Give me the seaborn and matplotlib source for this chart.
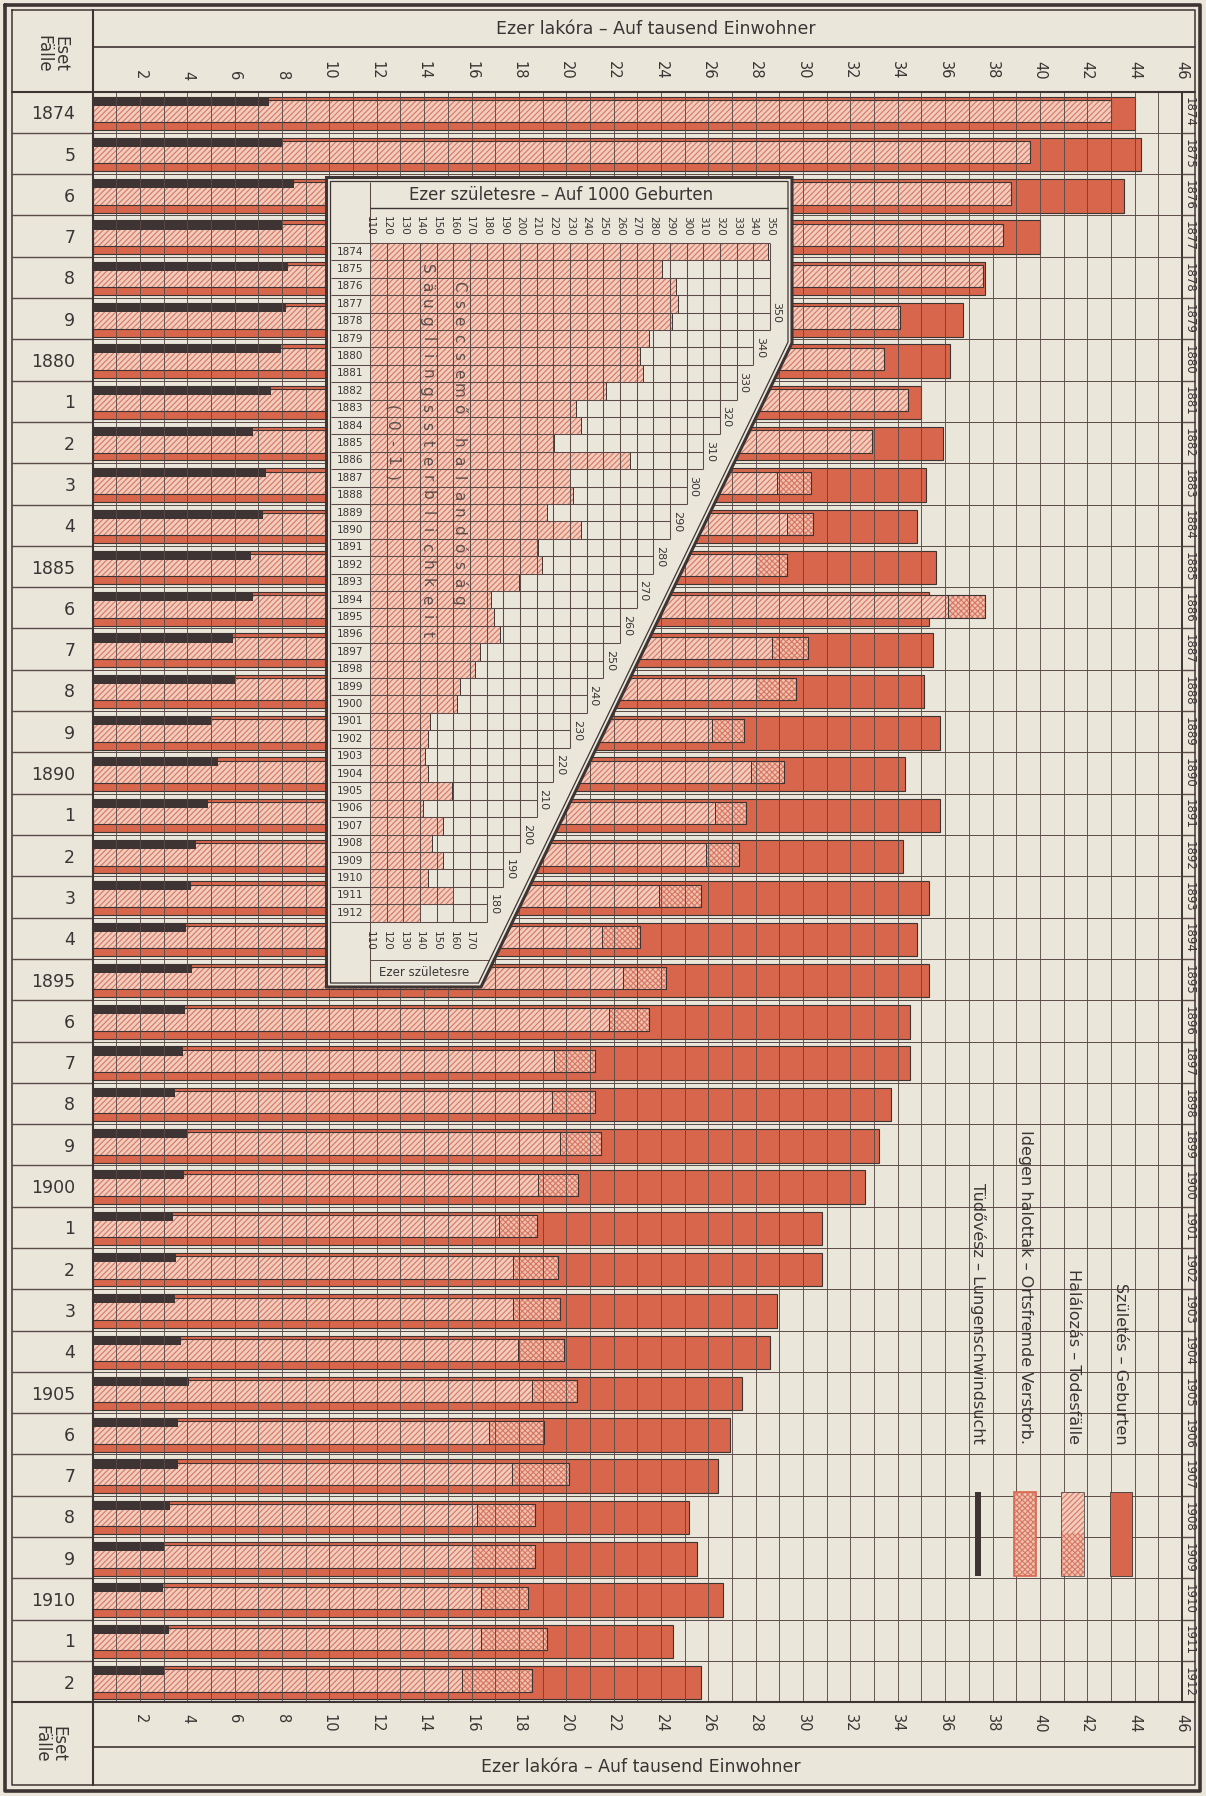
import numpy as np
import pandas as pd
import matplotlib
matplotlib.use("Agg")
import matplotlib.pyplot as plt
import matplotlib.transforms as mtransforms
from matplotlib.patches import Polygon, Rectangle
from matplotlib.lines import Line2D
import seaborn as sns

# ---------------- data ----------------
years = list(range(1874, 1913))
births = [44.0, 44.25, 43.55, 40.0, 37.7, 36.75, 36.2, 35.0, 35.9, 35.2,
          34.8, 35.6, 35.3, 35.5, 35.1, 35.8, 34.3, 35.8, 34.2, 35.3,
          34.8, 35.3, 34.5, 34.5, 33.7, 33.2, 32.6, 30.8, 30.8, 28.9,
          28.6, 27.4, 26.9, 26.4, 25.2, 25.5, 26.6, 24.5, 25.7]
deaths = [43.0, 39.6, 38.8, 38.45, 37.6, 34.1, 33.4, 34.45, 32.9, 30.35,
          30.4, 29.3, 37.7, 30.2, 29.7, 27.5, 29.2, 27.6, 27.3, 25.7,
          23.1, 24.2, 23.5, 21.2, 21.2, 21.45, 20.5, 18.75, 19.65, 19.75,
          19.9, 20.45, 19.05, 20.1, 18.7, 18.7, 18.4, 19.2, 18.55]
foreign_deaths = [0, 0, 0, 0, 0, 0, 0, 0, 0, 1.45,
                  1.1, 1.3, 1.6, 1.5, 1.7, 1.35, 1.4, 1.3, 1.4, 1.8,
                  1.6, 1.8, 1.7, 1.7, 1.8, 1.7, 1.7, 1.6, 1.9, 2.0,
                  1.95, 1.9, 2.3, 2.4, 2.45, 2.7, 2.0, 2.8, 2.95]
tuberculosis = [7.44, 8.03, 8.49, 8.0, 8.24, 8.17, 7.96, 7.54, 6.76, 7.32,
                7.18, 6.69, 6.76, 5.92, 6.01, 5.0, 5.31, 4.86, 4.37, 4.15,
                3.95, 4.2, 3.9, 3.8, 3.46, 4.0, 3.84, 3.39, 3.53, 3.46,
                3.74, 4.07, 3.6, 3.6, 3.27, 3.03, 2.99, 3.21, 3.06]
infant_mortality = [349, 285, 293.6, 295, 291, 277.4, 272, 274, 251.4, 233.4,
                    236.6, 220.6, 266, 230, 232, 216, 236.6, 211, 213.4, 199.4,
                    182.6, 184.6, 188, 176, 173, 164, 162, 146, 145, 143,
                    144.6, 159, 142, 154, 147, 154, 145, 160, 140]

main_ticks = list(range(2, 47, 2))
inset_ticks = list(range(110, 351, 10))
inset_bottom_ticks = list(range(110, 171, 10))
stair_ticks = list(range(180, 351, 10))
left_labels = [str(y) if (y == 1874 or (y % 5 == 0 and y != 1875)) else str(y % 10)
               for y in years]

header_main = "Ezer lakóra – Auf tausend Einwohner"
header_inset = "Ezer születesre – Auf 1000 Geburten"
footer_inset = "Ezer születesre"
corner_label = "Eset\nFälle"
inset_title_hu = "Csecsemő halandóság"
inset_title_de = "Säuglingssterblichkeit"
inset_age = "(0-1)"
legend_labels = ["Születés – Geburten", "Halálozás – Todesfälle",
                 "Idegen halottak – Ortsfremde Verstorb.",
                 "Tüdővész – Lungenschwindsucht"]

# ---------------- style ----------------
PAPER = "#EAE6DA"
RED = "#D8664C"
PINK = "#F1CDBF"
HATCH = "#D9765F"
XPINK = "#EEC2B3"
DARK = "#3E3434"
LINE = "#5A4B48"
TEXT = "#3A3434"

sns.set_theme(style="white")
plt.rcParams["font.family"] = ["DejaVu Sans"]
plt.rcParams["hatch.linewidth"] = 0.8

W, H = 1206, 1796
fig = plt.figure(figsize=(W / 100, H / 100), dpi=100, facecolor=PAPER)
PIX = mtransforms.Affine2D().scale(1 / W, -1 / H).translate(0, 1) + fig.transFigure

AX_L, AX_R, AX_T, AX_B = 92.6, 1182.0, 91.6, 1702.3
ax = fig.add_axes([AX_L / W, 1 - AX_B / H, (AX_R - AX_L) / W, (AX_B - AX_T) / H])
ax.set_facecolor(PAPER)

n = len(years)
rows = np.arange(n)
df = pd.DataFrame({
    "year": years,
    "births": births,
    "deaths": deaths,
    "foreign": foreign_deaths,
    "tb": tuberculosis,
    "birth_pos": rows + 0.525,
})
resident = df["deaths"] - df["foreign"]

# births (solid red) via seaborn
sns.barplot(data=df, x="births", y="birth_pos", orient="y", native_scale=True,
            width=0.81, color=RED, saturation=1, edgecolor=DARK, linewidth=0.8,
            errorbar=None, ax=ax, zorder=1)

ax.set_xlim(0, 46)
ax.set_ylim(n, 0)

# deaths (hatched) and foreign deaths (cross-hatched)
ax.barh(rows + 0.47, resident, height=0.54, left=0, facecolor=PINK,
        edgecolor=HATCH, hatch="//////", linewidth=0, zorder=1.5)
ax.barh(rows + 0.47, df["foreign"], height=0.54, left=resident, facecolor=XPINK,
        edgecolor=HATCH, hatch="xxxxxx", linewidth=0, zorder=1.5)
ax.barh(rows + 0.47, df["deaths"], height=0.54, left=0, fill=False,
        edgecolor=DARK, linewidth=0.8, zorder=1.6)
mask = df["foreign"] > 0
ax.barh((rows + 0.47)[mask], df["foreign"][mask], height=0.54,
        left=resident[mask], fill=False, edgecolor=DARK, linewidth=0.7, zorder=1.6)
# tuberculosis (dark)
ax.barh(rows + 0.24, df["tb"], height=0.2, left=0, color=DARK, linewidth=0, zorder=1.7)

# axes, ticks, grid
ax.set_xlabel("")
ax.set_ylabel("")
ax.set_xticks(main_ticks)
ax.set_xticklabels([str(t) for t in main_ticks])
ax.set_xticks(range(0, 47), minor=True)
ax.set_yticks(rows + 0.5)
ax.set_yticklabels(left_labels)
ax.set_yticks(range(0, n + 1), minor=True)
ax.tick_params(axis="x", which="both", length=0, top=False, bottom=False,
               labeltop=True, labelbottom=True, labelrotation=270,
               labelsize=10.5, labelcolor=TEXT, pad=8.5)
ax.tick_params(axis="y", which="both", length=0, left=False, right=False)
ax.tick_params(axis="y", which="major", labelsize=12.5, labelcolor=TEXT, pad=12.5)
ax.set_axisbelow(False)
ax.xaxis.grid(True, which="both", color=LINE, linewidth=0.65)
ax.yaxis.grid(True, which="minor", color=LINE, linewidth=0.7)
ax.yaxis.grid(False, which="major")
for s in ax.spines.values():
    s.set_color(DARK)
    s.set_linewidth(1.4)

# left & right columns (row separators, right-hand year labels)
blend = mtransforms.blended_transform_factory(fig.transFigure, ax.transData)
ax.hlines(np.arange(1, n), 12 / W, AX_L / W, transform=blend, colors=LINE,
          linewidth=1.0, clip_on=False)
ax.hlines(np.arange(1, n), AX_R / W, 1195 / W, transform=blend, colors=LINE,
          linewidth=1.0, clip_on=False)
for r, y in zip(rows, years):
    ax.text(1189 / W, r + 0.5, str(y), transform=blend, rotation=270,
            ha="center", va="center", fontsize=8.5, color=TEXT, clip_on=False)

# legend inside the plot
legend_x = [43.4, 41.4, 39.4, 37.4]
for lab, x in zip(legend_labels, legend_x):
    ax.text(x, 32.75, lab, rotation=270, ha="center", va="bottom",
            fontsize=11.5, color=TEXT, zorder=4)
ax.add_patch(Rectangle((42.95, 33.9), 0.95, 2.05, facecolor=RED, edgecolor=DARK,
                       linewidth=0.6, zorder=3))
ax.add_patch(Rectangle((40.9, 33.9), 0.95, 1.0, facecolor=PINK, edgecolor=HATCH,
                       hatch="//////", linewidth=0, zorder=3))
ax.add_patch(Rectangle((40.9, 34.9), 0.95, 1.05, facecolor=XPINK, edgecolor=HATCH,
                       hatch="xxxxxx", linewidth=0, zorder=3))
ax.add_patch(Rectangle((40.9, 33.9), 0.95, 2.05, fill=False, edgecolor=DARK,
                       linewidth=0.5, zorder=3.1))
ax.add_patch(Rectangle((38.9, 33.9), 0.95, 2.05, facecolor=XPINK, edgecolor=HATCH,
                       hatch="xxxxxx", linewidth=0, zorder=3))
ax.add_patch(Rectangle((38.9, 33.9), 0.95, 2.05, fill=False, edgecolor=RED,
                       linewidth=1.2, zorder=3.1))
ax.add_patch(Rectangle((37.27, 33.9), 0.25, 2.05, facecolor=DARK, linewidth=0,
                       zorder=3))

# ---------------- figure frame ----------------
def fline(xs, ys, lw=1.2, color=DARK):
    fig.add_artist(Line2D(xs, ys, transform=PIX, color=color, linewidth=lw))

fline([5, 1200, 1200, 5, 5], [5, 5, 1791, 1791, 5], lw=2.6)
fline([12, 1195, 1195, 12, 12], [10, 10, 1785, 1785, 10], lw=1.1)
fline([AX_L, AX_L], [10, 1785], lw=1.5)
fline([AX_L, 1195], [47, 47], lw=1.2)
fline([12, 1195], [AX_T, AX_T], lw=1.5)
fline([12, 1195], [AX_B, AX_B], lw=1.5)
fline([AX_L, 1195], [1747, 1747], lw=1.2)

fig.text(656 / W, 1 - 29 / H, header_main, ha="center", va="center",
         fontsize=12.5, color=TEXT)
fig.text(641 / W, 1 - 1767 / H, header_main, ha="center", va="center",
         fontsize=12.5, color=TEXT)
fig.text(52 / W, 1 - 54 / H, corner_label, ha="center", va="center",
         rotation=270, fontsize=12, color=TEXT, linespacing=0.95)
fig.text(50 / W, 1 - 1744 / H, corner_label, ha="center", va="center",
         rotation=270, fontsize=12, color=TEXT, linespacing=0.95)

# ---------------- inset: infant mortality ----------------
IN_L, IN_R, IN_T, IN_B = 326.5, 792.0, 177.5, 987.0
axi = fig.add_axes([IN_L / W, 1 - IN_B / H, (IN_R - IN_L) / W, (IN_B - IN_T) / H])
axi.set_xlim(83.9, 363.2)
axi.set_ylim(42.76, -3.76)
axi.axis("off")

outer = [(326.5, 177.5), (792, 177.5), (792, 343), (481, 987), (326.5, 987)]
inner = [(330.5, 181.5), (788, 181.5), (788, 342.1), (478.5, 983), (330.5, 983)]
axi.add_patch(Polygon(outer, closed=True, transform=PIX, facecolor=PAPER,
                      edgecolor=DARK, linewidth=2.2, zorder=0, clip_on=False))
axi.add_patch(Polygon(inner, closed=True, transform=PIX, fill=False,
                      edgecolor=DARK, linewidth=0.9, zorder=4, clip_on=False))

im = np.array(infant_mortality)
axi.barh(rows + 0.5, im - 110, left=110, height=1.0, facecolor=PINK,
         edgecolor=HATCH, hatch="//////", linewidth=0, zorder=1)
axi.barh(rows + 0.5, im - 110, left=110, height=1.0, fill=False,
         edgecolor=DARK, linewidth=0.7, zorder=1.2)


def stair_end(v):
    return min(float(n), 5 + 2 * (350 - v) / 10)


for v in inset_ticks:
    top = 0 if v > 110 else -3.53
    bottom = stair_end(v) if v >= 180 else (39.0 if v > 110 else 42.53)
    axi.vlines(v, top, bottom, colors=LINE, linewidth=0.75, zorder=2)
for m in range(0, n + 1):
    xmax = 350 if m <= 5 else 350 - 10 * int(np.ceil((m - 5) / 2))
    axi.hlines(m, 86.3, xmax, colors=LINE, linewidth=0.75, zorder=2)
axi.hlines(-2.0, 110, 360.8, colors=DARK, linewidth=1.0, zorder=2)
axi.hlines(41.2, 110, 181.5, colors=LINE, linewidth=0.7, zorder=2)

for v in inset_ticks:
    axi.text(v, -1.0, str(v), rotation=270, ha="center", va="center",
             fontsize=7.5, color=TEXT)
for v in inset_bottom_ticks:
    axi.text(v, 40.1, str(v), rotation=270, ha="center", va="center",
             fontsize=7.5, color=TEXT)
for v in stair_ticks:
    axi.text(v + 4, stair_end(v) - 1.0, str(v), rotation=270, ha="center",
             va="center", fontsize=8, color=TEXT)
for r, y in zip(rows, years):
    axi.text(98.0, r + 0.5, str(y), ha="center", va="center", fontsize=7.5,
             color=TEXT)

axi.text(224.6, -2.75, header_inset, ha="center", va="center", fontsize=12,
         color=TEXT)
axi.text(142.4, 41.95, footer_inset, ha="center", va="center", fontsize=8.5,
         color=TEXT)


def spaced_vertical(text, x, y0, step=1.0, size=11):
    for i, ch in enumerate(text):
        if ch == " ":
            continue
        axi.text(x, y0 + i * step, ch, rotation=270, ha="center", va="center",
                 fontsize=size, color=TEXT, alpha=0.8, zorder=3)


spaced_vertical(inset_title_hu, 163, 2.5)
spaced_vertical(inset_title_de, 144, 1.5)
spaced_vertical(inset_age, 123, 9.5)

fig.savefig("out.png", dpi=100, facecolor=PAPER)
